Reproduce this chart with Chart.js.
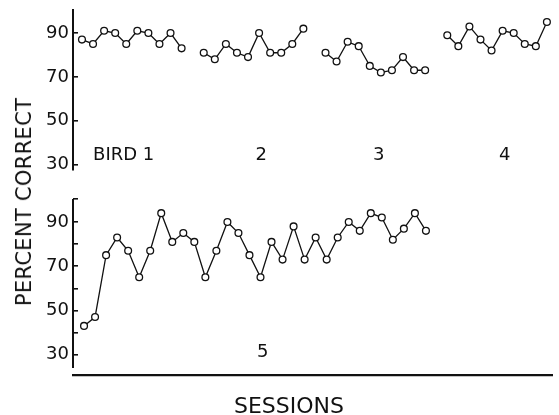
<!DOCTYPE html>
<html>
<head>
<meta charset="utf-8">
<script src="https://cdn.jsdelivr.net/npm/chart.js@4/dist/chart.umd.min.js"></script>
<style>
    html, body { margin: 0; padding: 0; background: #fff; }
    #wrap { position: relative; width: 559px; height: 415px; overflow: hidden; font-family: "DejaVu Sans", sans-serif; color: #111; }
    #topBox { position: absolute; left: 0; top: 0; width: 559px; height: 190px; }
    #bottomBox { position: absolute; left: 0; top: 190px; width: 559px; height: 225px; }
    .ytitle { position: absolute; left: 24px; top: 202px; transform: translate(-50%, -50%) rotate(-90deg); font-size: 21px; white-space: nowrap; letter-spacing: 0.3px; }
    .xtitle { position: absolute; left: 289px; top: 405px; transform: translate(-50%, -50%); font-size: 22px; white-space: nowrap; }
</style>
</head>
<body>
<div id="wrap">
    <div id="topBox"><canvas id="topChart" width="559" height="190"></canvas></div>
    <div id="bottomBox"><canvas id="bottomChart" width="559" height="225"></canvas></div>
    <div class="ytitle">PERCENT CORRECT</div>
    <div class="xtitle">SESSIONS</div>
</div>
<script>
// percent correct per session
const bird1 = [87, 85, 91, 90, 85, 91, 90, 85, 90, 83];
const bird2 = [81, 78, 85, 81, 79, 90, 81, 81, 85, 92];
const bird3 = [81, 77, 86, 84, 75, 72, 73, 79, 73, 73];
const bird4 = [89, 84, 93, 87, 82, 91, 90, 85, 84, 95];
const bird5 = [43, 47, 75, 83, 77, 65, 77, 94, 81, 85, 81, 65, 77, 90, 85, 75,
               65, 81, 73, 88, 73, 83, 73, 83, 90, 86, 94, 92, 82, 87, 94, 86];
const topBirds = [bird1, bird2, bird3, bird4];
const topStarts = [0, 11, 22, 33]; // first session slot of each bird in the top panel
const yTicks = [30, 40, 50, 60, 70, 80, 90];
const yLabelled = [30, 50, 70, 90];

const INK = '#111';

function toPoints(values, start) {
    return values.map((v, i) => ({ x: start + i, y: v }));
}

function lineDataset(values, start) {
    return {
        data: toPoints(values, start),
        borderColor: INK,
        borderWidth: 1.3,
        pointRadius: 3.4,
        pointBorderWidth: 1.3,
        pointBackgroundColor: '#fff',
        pointBorderColor: INK,
        tension: 0
    };
}

// free text placed in data units
const textPlugin = {
    id: 'birdText',
    afterDraw(chart, args, opts) {
        const ctx = chart.ctx;
        const xs = chart.scales.x, ys = chart.scales.y;
        ctx.save();
        ctx.fillStyle = INK;
        ctx.font = '18px "DejaVu Sans"';
        ctx.textBaseline = 'middle';
        (opts.items || []).forEach(t => {
            ctx.textAlign = t.align || 'center';
            ctx.fillText(t.text, xs.getPixelForValue(t.x), ys.getPixelForValue(t.y));
        });
        ctx.restore();
    }
};

// y axis line that stops short of the chart bottom
const axisLinePlugin = {
    id: 'axisLine',
    afterDraw(chart, args, opts) {
        if (!opts.from) return;
        const ys = chart.scales.y;
        const ctx = chart.ctx;
        const x = Math.round(ys.right);
        ctx.save();
        ctx.strokeStyle = INK;
        ctx.lineWidth = 2;
        ctx.beginPath();
        ctx.moveTo(x, ys.getPixelForValue(ys.max));
        ctx.lineTo(x, ys.getPixelForValue(opts.from));
        ctx.stroke();
        ctx.restore();
    }
};

function yScale(min, max, showBorder) {
    return {
        min: min,
        max: max,
        afterBuildTicks: scale => {
            scale.ticks = yTicks.concat([max]).map(v => ({ value: v }));
        },
        afterFit: scale => {
            scale.width = 73;
            scale.paddingTop = 0;
            scale.paddingBottom = 0;
        },
        border: { display: showBorder, color: INK, width: 2 },
        grid: { drawOnChartArea: false, drawTicks: true, tickLength: -5, color: INK, lineWidth: 1.6 },
        ticks: {
            padding: 9,
            color: INK,
            font: { family: 'DejaVu Sans', size: 18 },
            callback: v => yLabelled.includes(v) ? String(v) : ''
        }
    };
}

new Chart(document.getElementById('topChart').getContext('2d'), {
    type: 'line',
    data: { datasets: topBirds.map((b, k) => lineDataset(b, topStarts[k])) },
    options: {
        responsive: false,
        animation: false,
        layout: { padding: { top: 10, bottom: 20, right: 7, left: 0 } },
        plugins: {
            legend: { display: false },
            tooltip: { enabled: false },
            birdText: {
                items: [
                    { text: 'BIRD 1', x: 1.0, y: 34, align: 'left' },
                    { text: '2', x: 16.2, y: 34 },
                    { text: '3', x: 26.8, y: 34 },
                    { text: '4', x: 38.2, y: 34 }
                ]
            },
            axisLine: {}
        },
        scales: {
            x: { type: 'linear', min: -0.81, max: 42.46, display: false },
            y: yScale(27.5, 100.5, true)
        }
    },
    plugins: [textPlugin, axisLinePlugin]
});

new Chart(document.getElementById('bottomChart').getContext('2d'), {
    type: 'line',
    data: { datasets: [lineDataset(bird5, 0)] },
    options: {
        responsive: false,
        animation: false,
        layout: { padding: { top: 9, bottom: 0, right: 7, left: 0 } },
        plugins: {
            legend: { display: false },
            tooltip: { enabled: false },
            birdText: { items: [{ text: '5', x: 16.2, y: 30.9 }] },
            axisLine: { from: 24 }
        },
        scales: {
            x: {
                type: 'linear',
                min: -1.0,
                max: 42.43,
                afterFit: scale => { scale.height = 40; },
                border: { display: true, color: INK, width: 2.2 },
                grid: { drawOnChartArea: false, drawTicks: false },
                ticks: { display: false }
            },
            y: yScale(20.8, 100.4, false)
        }
    },
    plugins: [textPlugin, axisLinePlugin]
});
</script>
</body>
</html>
